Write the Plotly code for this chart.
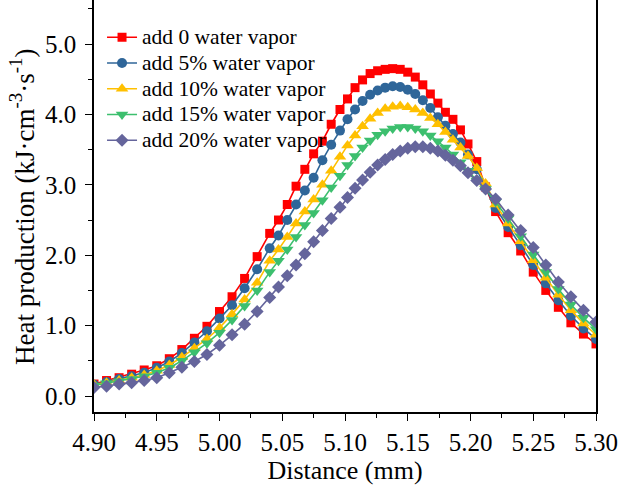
import plotly.graph_objects as go

distance = [4.900, 4.910, 4.920, 4.930, 4.940, 4.950, 4.960, 4.970, 4.980, 4.990,
            5.000, 5.010, 5.020, 5.030, 5.040, 5.047, 5.054, 5.061, 5.068, 5.075,
            5.082, 5.089, 5.096, 5.102, 5.108, 5.114, 5.120, 5.126, 5.132, 5.138,
            5.144, 5.150, 5.156, 5.162, 5.168, 5.174, 5.180, 5.186, 5.192, 5.198,
            5.205, 5.212, 5.220, 5.230, 5.240, 5.250, 5.260, 5.270, 5.280, 5.290, 5.300]

heat_0 = [0.17, 0.22, 0.26, 0.31, 0.37, 0.43, 0.53, 0.66, 0.82, 0.99,
          1.20, 1.41, 1.67, 1.98, 2.31, 2.50, 2.72, 2.98, 3.22, 3.44,
          3.62, 3.86, 4.07, 4.22, 4.38, 4.49, 4.58, 4.62, 4.64, 4.65,
          4.64, 4.60, 4.53, 4.42, 4.29, 4.16, 4.03, 3.93, 3.78, 3.58,
          3.33, 2.97, 2.62, 2.32, 2.06, 1.76, 1.50, 1.26, 1.04, 0.88, 0.74]

heat_5 = [0.16, 0.20, 0.24, 0.28, 0.33, 0.40, 0.49, 0.61, 0.76, 0.92,
          1.10, 1.29, 1.53, 1.80, 2.10, 2.28, 2.50, 2.72, 2.92, 3.10,
          3.35, 3.57, 3.77, 3.93, 4.07, 4.19, 4.28, 4.34, 4.38, 4.40,
          4.39, 4.35, 4.29, 4.20, 4.09, 3.96, 3.84, 3.72, 3.60, 3.43,
          3.22, 2.96, 2.67, 2.40, 2.14, 1.86, 1.60, 1.36, 1.14, 0.96, 0.81]

heat_10 = [0.16, 0.19, 0.22, 0.26, 0.30, 0.36, 0.44, 0.55, 0.68, 0.81,
           0.97, 1.16, 1.37, 1.61, 1.92, 2.08, 2.26, 2.45, 2.62, 2.79,
           3.00, 3.20, 3.40, 3.56, 3.70, 3.83, 3.94, 4.02, 4.08, 4.11,
           4.12, 4.10, 4.07, 4.02, 3.95, 3.86, 3.75, 3.64, 3.53, 3.41,
           3.24, 3.02, 2.72, 2.45, 2.20, 1.93, 1.68, 1.44, 1.22, 1.03, 0.87]

heat_15 = [0.15, 0.18, 0.21, 0.24, 0.28, 0.33, 0.40, 0.50, 0.62, 0.75,
           0.90, 1.08, 1.28, 1.50, 1.76, 1.92, 2.08, 2.26, 2.43, 2.60,
           2.78, 2.96, 3.13, 3.28, 3.41, 3.53, 3.63, 3.71, 3.76, 3.80,
           3.82, 3.82, 3.80, 3.76, 3.70, 3.62, 3.53, 3.43, 3.32, 3.20,
           3.06, 2.94, 2.76, 2.52, 2.27, 2.01, 1.76, 1.52, 1.30, 1.11, 0.95]

heat_20 = [0.12, 0.14, 0.17, 0.19, 0.22, 0.26, 0.33, 0.41, 0.49, 0.59,
           0.72, 0.87, 1.02, 1.20, 1.40, 1.55, 1.71, 1.86, 2.02, 2.19,
           2.35, 2.52, 2.68, 2.82, 2.95, 3.07, 3.18, 3.28, 3.36, 3.43,
           3.48, 3.52, 3.54, 3.54, 3.52, 3.48, 3.42, 3.35, 3.27, 3.17,
           3.06, 2.94, 2.80, 2.57, 2.35, 2.11, 1.86, 1.62, 1.41, 1.22, 1.05]

names = ["add 0 water vapor", "add 5% water vapor", "add 10% water vapor",
         "add 15% water vapor", "add 20% water vapor"]
series = [heat_0, heat_5, heat_10, heat_15, heat_20]
colors = ["#FF0000", "#2F6699", "#FFC000", "#3CBF6E", "#65659C"]
symbols = ["square", "circle", "triangle-up", "triangle-down", "diamond"]
sizes = [9, 10, 11, 11, 10]

y_title = "Heat production (kJ·cm<sup>-3</sup>·s<sup>-1</sup>)"
x_title = "Distance (mm)"

font = "Liberation Serif"

fig = go.Figure()
for name, ys, c, s, sz in zip(names, series, colors, symbols, sizes):
    fig.add_trace(go.Scatter(
        x=distance, y=ys,
        name='<span style="font-size:21.5px">' + name + '</span>',
        mode="lines+markers",
        line=dict(color=c, width=1.6),
        marker=dict(color=c, symbol=s, size=sz, line=dict(width=0)),
    ))

fig.update_layout(
    width=620, height=486,
    margin=dict(l=94, r=24, t=0, b=74),
    paper_bgcolor="white", plot_bgcolor="white",
    font=dict(family=font, color="black", size=21),
    showlegend=True,
    legend=dict(x=0.016, y=0.953, xanchor="left", yanchor="top",
                bgcolor="rgba(0,0,0,0)", font=dict(size=17.5, family=font, color="black"),
                tracegroupgap=0),
    xaxis=dict(
        range=[4.90, 5.30], dtick=0.05, tick0=4.90, tickformat=".2f",
        showgrid=False, zeroline=False,
        showline=True, linecolor="black", linewidth=1.5, mirror=False,
        ticks="outside", ticklen=7, tickwidth=1.3, tickcolor="black",
        minor=dict(dtick=0.025, ticks="outside", ticklen=4, tickwidth=1.2, tickcolor="black"),
        tickfont=dict(size=25, family=font),
        title=dict(text=x_title, font=dict(size=26, family=font), standoff=4),
    ),
    yaxis=dict(
        range=[-0.227, 5.625], dtick=1.0, tick0=0, tickformat=".1f",
        showgrid=False, zeroline=False,
        showline=True, linecolor="black", linewidth=1.5, mirror=True,
        ticks="outside", ticklen=7, tickwidth=1.3, tickcolor="black",
        minor=dict(dtick=0.5, ticks="outside", ticklen=4, tickwidth=1.2, tickcolor="black"),
        tickfont=dict(size=25, family=font),
        ticklabelstandoff=4,
    ),
    annotations=[dict(
        text=y_title, textangle=-90, showarrow=False,
        xref="paper", yref="paper", x=-0.143, y=0.498,
        xanchor="center", yanchor="middle",
        font=dict(size=27, family=font, color="black"),
    )],
)

fig.write_html("out.html", config={"displayModeBar": False},
               post_script="document.body.style.margin='0px';")
